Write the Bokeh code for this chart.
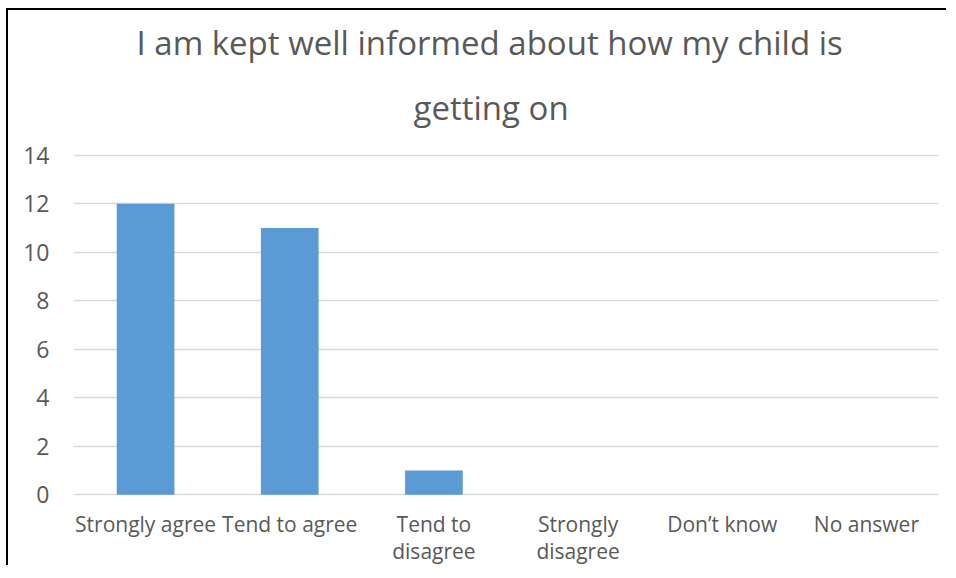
from bokeh.plotting import figure
from bokeh.models import ColumnDataSource, Range1d, SingleIntervalTicker, FixedTicker, LinearAxis, Title
from bokeh.embed import file_html
from bokeh.resources import INLINE

categories = ["Strongly agree", "Tend to agree", "Tend to disagree", "Strongly disagree", "Don\u2019t know", "No answer"]
label_line1 = ["Strongly agree", "Tend to agree", "Tend to", "Strongly", "Don\u2019t know", "No answer"]
label_line2 = ["", "", "disagree", "disagree", "", ""]
counts = [12, 11, 1, 0, 0, 0]
title_lines = ["I am kept well informed about how my child is", "getting on"]

FONT = "Open Sans"
GREY = "#595959"

# each category occupies one unit slot on the x range; bars sit at slot centres
centers = [i + 0.5 for i in range(len(categories))]
src = ColumnDataSource(dict(cat=categories, x=centers, val=counts))

W, H = 940, 557
p = figure(width=W, height=H, x_range=Range1d(0, len(categories)),
           y_range=Range1d(-0.03, 14.03), output_backend="svg", toolbar_location=None,
           min_border_left=65, min_border_right=10, min_border_top=144, min_border_bottom=20,
           x_axis_type=None)
p.styles = {"margin": "8px 0 0 6px", "border-left": "2px solid #000", "border-top": "2px solid #000"}

p.vbar(x="x", top="val", width=0.4, source=src, fill_color="#5b9bd5", line_color=None)

# title: two lines, second line added first (nearest the frame)
t2 = Title(text=title_lines[1], align="left", offset=340, standoff=49, text_font=FONT,
           text_font_size="33px", text_color=GREY, text_font_style="normal")
t1 = Title(text=title_lines[0], align="left", offset=63, standoff=-13, text_font=FONT,
           text_font_size="33px", text_color=GREY, text_font_style="normal")
p.add_layout(t2, "above")
p.add_layout(t1, "above")

p.outline_line_color = None
p.xgrid.grid_line_color = None
p.ygrid.grid_line_color = "#d9d9d9"
p.ygrid.grid_line_width = 1.5

p.yaxis.ticker = SingleIntervalTicker(interval=2)
p.yaxis.axis_line_color = None
p.yaxis.major_tick_line_color = None
p.yaxis.minor_tick_line_color = None
p.yaxis.major_label_text_font = FONT
p.yaxis.major_label_text_font_size = "23px"
p.yaxis.major_label_text_color = GREY
p.yaxis.major_label_standoff = 18


def label_axis(lines, standoff):
    ax = LinearAxis(ticker=FixedTicker(ticks=centers))
    ax.axis_line_color = None
    ax.major_tick_line_color = None
    ax.minor_tick_line_color = None
    ax.major_label_text_font = FONT
    ax.major_label_text_font_size = "21px"
    ax.major_label_text_color = GREY
    ax.major_label_standoff = standoff
    ax.major_label_overrides = {c: l for c, l in zip(centers, lines)}
    p.add_layout(ax, "below")


label_axis(label_line1, 8)
label_axis(label_line2, -10)

open("out.html", "w").write(file_html(p, INLINE))
